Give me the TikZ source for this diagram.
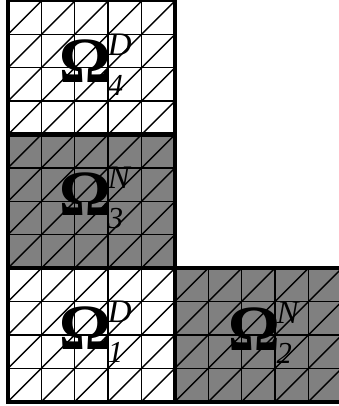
\documentclass[tikz,border=0pt]{standalone}
\usepackage{fontspec}
\setmainfont{Liberation Serif}
\tikzset{
  mesh/.style={line width=1.2pt},
  edge/.style={line width=3.6pt},
  domlabel/.style={inner sep=0pt}
}
\newcommand{\domlab}[2]{{\fontsize{55}{55}\selectfont\bfseries Ω}\kern-3pt\makebox[0pt][l]{\raisebox{23pt}{\fontsize{28}{28}\selectfont\itshape #1}}\raisebox{-11pt}{\fontsize{26}{26}\selectfont\itshape #2}\hspace{3pt}}

\begin{document}
\begin{tikzpicture}
\useasboundingbox (-0.24,-0.13) rectangle (9.91,12.03);
\clip (-0.24,-0.13) rectangle (9.91,12.03);
% grey subdomains
\fill[gray] (0,4) rectangle (5,8);
\fill[gray] (5,0) rectangle (10,4);
% mesh, left column
\foreach \x in {0,...,5} \draw[mesh] (\x,0) -- (\x,12.5);
\foreach \y in {0,...,12} \draw[mesh] (0,\y) -- (5,\y);
\foreach \x in {0,...,4} \foreach \y in {0,...,12} \draw[mesh] (\x,\y) -- ++(1,1);
% mesh, right square
\foreach \x in {6,...,10} \draw[mesh] (\x,0) -- (\x,4);
\foreach \y in {0,...,4} \draw[mesh] (5,\y) -- (10,\y);
\foreach \x in {5,...,9} \foreach \y in {0,...,3} \draw[mesh] (\x,\y) -- ++(1,1);
% subdomain boundaries
\draw[edge] (0,12.5) -- (0,0) -- (10,0) -- (10,4) -- (0,4);
\draw[edge] (5,12.5) -- (5,0);
\draw[edge] (0,8) -- (5,8);
% labels
\node[domlabel] (om4) at (2.5,10.1) {\domlab{D}{4}};
\node[domlabel] (om3) at (2.5,6.1) {\domlab{N}{3}};
\node[domlabel] (om1) at (2.5,2.1) {\domlab{D}{1}};
\node[domlabel] (om2) at (7.55,2.07) {\domlab{N}{2}};
\end{tikzpicture}
\end{document}
